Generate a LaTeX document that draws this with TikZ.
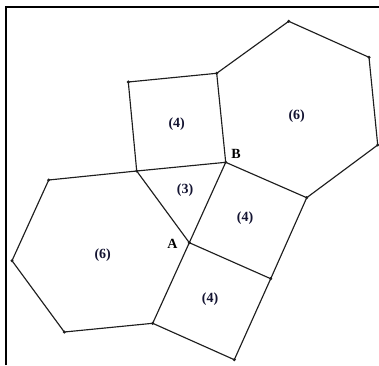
\documentclass[tikz,border=0pt]{standalone}
\usepackage{fontspec}
\setmainfont{Liberation Serif}
\usepackage{xcolor}
\definecolor{labelnavy}{RGB}{20,20,50}
\definecolor{edgegray}{RGB}{30,30,30}
\usepackage{tikz}
\usetikzlibrary{positioning}
\tikzset{
  edge/.style={draw=edgegray, line width=1.15pt, line join=round},
  frameline/.style={draw=black, line width=2pt},
  vertex/.style={circle, fill=edgegray, inner sep=0pt, minimum size=3.4pt},
  facelabel/.style={text=labelnavy, font=\fontsize{14}{16}\selectfont\bfseries, inner sep=0pt},
  ptlabel/.style={text=black, font=\fontsize{14}{16}\selectfont\bfseries, inner sep=0pt},
}

\begin{document}
\begin{tikzpicture}[x=1pt, y=1pt]
  \useasboundingbox (0,0) rectangle (379,365);
  \draw [frameline] (6,0) -- (6,358) -- (379,358);

  % vertices
  \coordinate (A)  at (189.3,122.3);
  \coordinate (B)  at (225.7,202.7);
  \coordinate (C)  at (136.7,194);
  \coordinate (s1) at (128.3,283);
  \coordinate (s2) at (216.7,291.7);
  \coordinate (h1) at (288.7,343.7);
  \coordinate (h2) at (369,307.7);
  \coordinate (h3) at (377.7,220);
  \coordinate (h4) at (306.7,167.3);
  \coordinate (r1) at (270.7,86.3);
  \coordinate (d1) at (234.3,5.3);
  \coordinate (d2) at (152.7,41.7);
  \coordinate (l1) at (48.7,185);
  \coordinate (l2) at (12,104.3);
  \coordinate (l3) at (64.3,33);

  % faces
  \draw [edge] (C) -- (B) -- (A) -- cycle;
  \draw [edge] (C) -- (s1) -- (s2) -- (B);
  \draw [edge] (s2) -- (h1) -- (h2) -- (h3) -- (h4) -- (B);
  \draw [edge] (h4) -- (r1) -- (A);
  \draw [edge] (r1) -- (d1) -- (d2) -- (A);
  \draw [edge] (C) -- (l1) -- (l2) -- (l3) -- (d2);

  \foreach \p in {A,B,C,s1,s2,h1,h2,h3,h4,r1,d1,d2,l1,l2,l3}
    \node [vertex] at (\p) {};

  % labels
  \node [facelabel] (sqtop)   at (176.7,240.7) {(4)};
  \node [facelabel] (hextop)  at (296.7,249.3) {(6)};
  \node [facelabel] (tri)     at (185,175)     {(3)};
  \node [facelabel] (sqright) at (245,146.7)   {(4)};
  \node [facelabel] (hexleft) at (102.7,110)   {(6)};
  \node [facelabel] (sqbot)   at (210,66)      {(4)};
  \node [ptlabel]   (labA)    at (172.5,121.5) {A};
  \node [ptlabel]   (labB)    at (236,211.5)   {B};
\end{tikzpicture}
\end{document}
